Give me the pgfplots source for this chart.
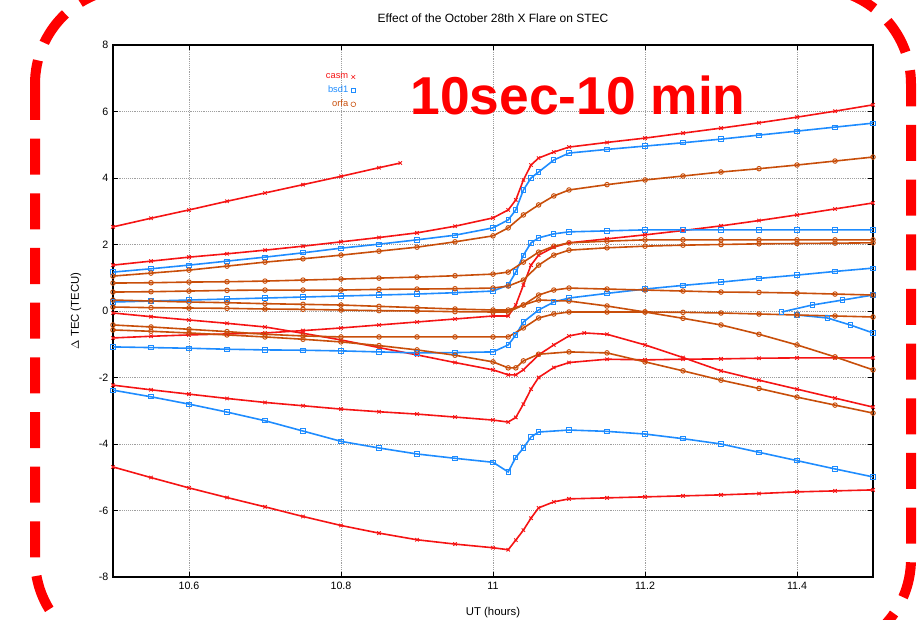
\documentclass[border=0pt]{standalone}
\usepackage{fontspec}
\setmainfont{Liberation Sans}
\usepackage{pgfplots}
\pgfplotsset{compat=1.18}
\definecolor{gpred}{RGB}{245,20,20}
\definecolor{gpblue}{RGB}{30,140,255}
\definecolor{gporange}{RGB}{200,78,10}
\pgfplotsset{
  rr/.style={gpred, mark=x, mark size=1.8pt, line width=1.2pt, mark options={solid, line width=0.7pt}, forget plot},
  bb/.style={gpblue, mark=square, mark size=1.6pt, line width=1.2pt, mark options={solid, line width=0.7pt}, forget plot},
  oo/.style={gporange, mark=o, mark size=1.7pt, line width=1.2pt, mark options={solid, line width=0.7pt}, forget plot},
}
\begin{document}
\begin{tikzpicture}
\begin{axis}[
    at={(84.75pt,-432.75pt)}, anchor=south west,
    width=570pt, height=399pt, scale only axis,
    xmin=10.5, xmax=11.5, ymin=-8, ymax=8,
    xtick={10.6,10.8,11,11.2,11.4},
    xticklabels={10.6,10.8,11,11.2,11.4},
    ytick={-8,-6,-4,-2,0,2,4,6,8},
    tick align=inside, major tick length=4pt,
    grid=major, grid style={densely dotted, gray!75, line width=0.6pt},
    axis line style={black, line width=0.9pt},
    tick style={black, line width=0.6pt},
    ticklabel style={font=\fontsize{8}{9}\selectfont},
    /pgf/number format/assume math mode=true,
    legend cell align=right,
    legend style={legend plot pos=right, draw=none, fill=none,
      font=\fontsize{7}{8}\selectfont, at={(0.325,0.957)}, anchor=north east,
      row sep=0pt},
]
\addlegendimage{only marks, mark=x, gpred, mark size=2pt}
\addlegendentry{\textcolor{gpred}{casm}}
\addlegendimage{only marks, mark=square, gpblue, mark size=1.8pt}
\addlegendentry{\textcolor{gpblue}{bsd1}}
\addlegendimage{only marks, mark=o, gporange, mark size=1.8pt}
\addlegendentry{\textcolor{gporange}{orfa}}

% red series
\addplot[rr] coordinates {(10.5,2.53)(10.55,2.79)(10.6,3.04)(10.65,3.30)(10.7,3.55)(10.75,3.80)(10.8,4.05)(10.85,4.31)(10.878,4.45)};
\addplot[rr] coordinates {(10.5,1.38)(10.55,1.50)(10.6,1.62)(10.65,1.72)(10.7,1.83)(10.75,1.95)(10.8,2.08)(10.85,2.21)(10.9,2.35)(10.95,2.55)(11.0,2.80)(11.02,3.04)(11.03,3.34)(11.04,3.94)(11.05,4.39)(11.06,4.60)(11.08,4.78)(11.1,4.93)(11.15,5.07)(11.2,5.20)(11.25,5.35)(11.3,5.50)(11.35,5.66)(11.4,5.83)(11.45,6.01)(11.5,6.20)};
\addplot[rr] coordinates {(10.5,-0.81)(10.55,-0.76)(10.6,-0.72)(10.65,-0.69)(10.7,-0.66)(10.75,-0.59)(10.8,-0.51)(10.85,-0.42)(10.9,-0.33)(10.95,-0.24)(11.0,-0.15)(11.02,-0.15)(11.03,0.18)(11.04,0.78)(11.05,1.38)(11.06,1.68)(11.08,1.92)(11.1,2.05)(11.15,2.17)(11.2,2.29)(11.25,2.42)(11.3,2.56)(11.35,2.72)(11.4,2.89)(11.45,3.07)(11.5,3.25)};
\addplot[rr] coordinates {(10.5,-0.06)(10.55,-0.17)(10.6,-0.27)(10.65,-0.37)(10.7,-0.48)(10.75,-0.67)(10.8,-0.87)(10.85,-1.10)(10.9,-1.32)(10.95,-1.55)(11.0,-1.77)(11.02,-1.92)(11.03,-1.92)(11.04,-1.77)(11.06,-1.32)(11.08,-1.02)(11.1,-0.75)(11.12,-0.66)(11.15,-0.70)(11.2,-1.02)(11.25,-1.40)(11.3,-1.80)(11.35,-2.08)(11.4,-2.35)(11.45,-2.62)(11.5,-2.89)};
\addplot[rr] coordinates {(10.5,-2.23)(10.55,-2.37)(10.6,-2.50)(10.65,-2.63)(10.7,-2.75)(10.75,-2.85)(10.8,-2.95)(10.85,-3.03)(10.9,-3.10)(10.95,-3.19)(11.0,-3.28)(11.02,-3.34)(11.03,-3.20)(11.04,-2.80)(11.05,-2.35)(11.06,-2.00)(11.08,-1.70)(11.1,-1.55)(11.15,-1.45)(11.2,-1.47)(11.25,-1.45)(11.3,-1.44)(11.35,-1.42)(11.4,-1.41)(11.45,-1.41)(11.5,-1.41)};
\addplot[rr] coordinates {(10.5,-4.69)(10.55,-5.01)(10.6,-5.32)(10.65,-5.61)(10.7,-5.89)(10.75,-6.18)(10.8,-6.45)(10.85,-6.68)(10.9,-6.88)(10.95,-7.01)(11.0,-7.12)(11.02,-7.18)(11.03,-6.89)(11.04,-6.59)(11.05,-6.23)(11.06,-5.92)(11.08,-5.74)(11.1,-5.65)(11.15,-5.62)(11.2,-5.59)(11.25,-5.56)(11.3,-5.53)(11.35,-5.49)(11.4,-5.44)(11.45,-5.41)(11.5,-5.38)};

% blue series
\addplot[bb] coordinates {(10.5,1.17)(10.55,1.27)(10.6,1.38)(10.65,1.50)(10.7,1.62)(10.75,1.75)(10.8,1.89)(10.85,2.01)(10.9,2.14)(10.95,2.28)(11.0,2.50)(11.02,2.74)(11.03,3.04)(11.04,3.64)(11.05,4.00)(11.06,4.18)(11.08,4.54)(11.1,4.75)(11.15,4.86)(11.2,4.96)(11.25,5.06)(11.3,5.17)(11.35,5.29)(11.4,5.41)(11.45,5.53)(11.5,5.65)};
\addplot[bb] coordinates {(10.5,0.27)(10.55,0.30)(10.6,0.33)(10.65,0.36)(10.7,0.39)(10.75,0.42)(10.8,0.45)(10.85,0.48)(10.9,0.51)(10.95,0.55)(11.0,0.60)(11.02,0.78)(11.03,1.17)(11.04,1.68)(11.05,2.05)(11.06,2.20)(11.08,2.32)(11.1,2.38)(11.15,2.41)(11.2,2.44)(11.25,2.44)(11.3,2.44)(11.35,2.44)(11.4,2.44)(11.45,2.44)(11.5,2.44)};
\addplot[bb] coordinates {(10.5,-1.08)(10.55,-1.10)(10.6,-1.12)(10.65,-1.15)(10.7,-1.17)(10.75,-1.18)(10.8,-1.20)(10.85,-1.23)(10.9,-1.26)(10.95,-1.25)(11.0,-1.23)(11.02,-1.02)(11.03,-0.72)(11.04,-0.33)(11.06,0.03)(11.08,0.27)(11.1,0.39)(11.15,0.53)(11.2,0.66)(11.25,0.77)(11.3,0.87)(11.35,0.98)(11.4,1.08)(11.45,1.19)(11.5,1.29)};
\addplot[bb] coordinates {(11.38,-0.03)(11.42,0.18)(11.46,0.33)(11.5,0.48)};
\addplot[bb] coordinates {(11.4,-0.12)(11.44,-0.21)(11.47,-0.42)(11.5,-0.66)};
\addplot[bb] coordinates {(10.5,-2.38)(10.55,-2.58)(10.6,-2.80)(10.65,-3.04)(10.7,-3.30)(10.75,-3.61)(10.8,-3.92)(10.85,-4.12)(10.9,-4.30)(10.95,-4.43)(11.0,-4.55)(11.02,-4.84)(11.03,-4.40)(11.04,-4.12)(11.05,-3.79)(11.06,-3.64)(11.1,-3.58)(11.15,-3.62)(11.2,-3.70)(11.25,-3.84)(11.3,-4.00)(11.35,-4.25)(11.4,-4.50)(11.45,-4.75)(11.5,-4.99)};

% orange series
\addplot[oo] coordinates {(10.5,1.05)(10.55,1.14)(10.6,1.23)(10.65,1.35)(10.7,1.47)(10.75,1.57)(10.8,1.68)(10.85,1.80)(10.9,1.92)(10.95,2.08)(11.0,2.26)(11.02,2.50)(11.04,2.89)(11.06,3.19)(11.08,3.46)(11.1,3.64)(11.15,3.80)(11.2,3.94)(11.25,4.06)(11.3,4.18)(11.35,4.28)(11.4,4.39)(11.45,4.51)(11.5,4.63)};
\addplot[oo] coordinates {(10.5,0.84)(10.55,0.85)(10.6,0.87)(10.65,0.88)(10.7,0.90)(10.75,0.93)(10.8,0.96)(10.85,0.99)(10.9,1.02)(10.95,1.06)(11.0,1.11)(11.02,1.17)(11.04,1.47)(11.06,1.77)(11.08,1.95)(11.1,2.05)(11.15,2.10)(11.2,2.14)(11.25,2.14)(11.3,2.14)(11.35,2.14)(11.4,2.14)(11.45,2.14)(11.5,2.14)};
\addplot[oo] coordinates {(10.5,0.57)(10.55,0.58)(10.6,0.60)(10.65,0.62)(10.7,0.63)(10.75,0.63)(10.8,0.63)(10.85,0.65)(10.9,0.66)(10.95,0.67)(11.0,0.69)(11.02,0.75)(11.04,0.93)(11.06,1.38)(11.08,1.68)(11.1,1.83)(11.15,1.90)(11.2,1.95)(11.25,1.98)(11.3,2.00)(11.35,2.02)(11.4,2.03)(11.45,2.04)(11.5,2.05)};
\addplot[oo] coordinates {(10.5,0.12)(10.55,0.10)(10.6,0.09)(10.65,0.08)(10.7,0.06)(10.75,0.05)(10.8,0.03)(10.85,0.01)(10.9,0.00)(10.95,-0.02)(11.0,-0.03)(11.02,-0.03)(11.04,0.18)(11.06,0.48)(11.08,0.63)(11.1,0.69)(11.15,0.66)(11.2,0.63)(11.25,0.60)(11.3,0.57)(11.35,0.56)(11.4,0.54)(11.45,0.51)(11.5,0.48)};
\addplot[oo] coordinates {(10.5,0.33)(10.55,0.30)(10.6,0.27)(10.65,0.25)(10.7,0.22)(10.75,0.20)(10.8,0.18)(10.85,0.14)(10.9,0.10)(10.95,0.06)(11.0,0.03)(11.02,0.03)(11.04,0.18)(11.06,0.33)(11.1,0.30)(11.15,0.15)(11.2,-0.03)(11.25,-0.22)(11.3,-0.42)(11.35,-0.70)(11.4,-1.02)(11.45,-1.38)(11.5,-1.77)};
\addplot[oo] coordinates {(10.5,-0.42)(10.55,-0.48)(10.6,-0.55)(10.65,-0.62)(10.7,-0.70)(10.75,-0.75)(10.8,-0.78)(10.85,-0.78)(10.9,-0.78)(10.95,-0.78)(11.0,-0.78)(11.02,-0.78)(11.04,-0.51)(11.06,-0.21)(11.08,-0.09)(11.1,-0.03)(11.15,-0.03)(11.2,-0.03)(11.25,-0.04)(11.3,-0.06)(11.35,-0.09)(11.4,-0.12)(11.45,-0.15)(11.5,-0.18)};
\addplot[oo] coordinates {(10.5,-0.57)(10.55,-0.61)(10.6,-0.66)(10.65,-0.72)(10.7,-0.78)(10.75,-0.85)(10.8,-0.93)(10.85,-1.04)(10.9,-1.17)(10.95,-1.33)(11.0,-1.53)(11.02,-1.71)(11.03,-1.71)(11.04,-1.50)(11.06,-1.30)(11.1,-1.23)(11.15,-1.26)(11.2,-1.53)(11.25,-1.80)(11.3,-2.08)(11.35,-2.33)(11.4,-2.59)(11.45,-2.83)(11.5,-3.07)};
\end{axis}
\begin{scope}[x=0.75pt, y=-0.75pt]
  \useasboundingbox (0,0) rectangle (924,620);
  \node[font=\fontsize{9}{10}\selectfont] at (493,18) {Effect of the October 28th X Flare on STEC};
  \node[font=\fontsize{8.5}{10}\selectfont] at (493,613) {UT (hours)};
  \node[font=\fontsize{8.5}{10}\selectfont, rotate=90] at (76,311) {$\Delta$ TEC (TECU)};
  \node[text=red, font=\fontsize{40}{40}\selectfont\bfseries] at (578,95) {10sec-10 min};
  \clip (0,0) rectangle (924,620);
  \draw[red, line width=7.5pt, dash pattern=on 27pt off 14pt, rounded corners=72pt] (35,-12) rectangle (911,655);
\end{scope}
\end{tikzpicture}
\end{document}
